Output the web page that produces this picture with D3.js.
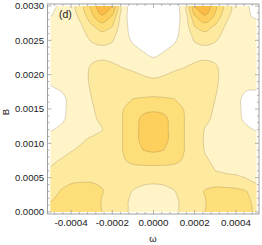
<!DOCTYPE html>
<html>
<head>
<meta charset="utf-8">
<script src="https://cdn.jsdelivr.net/npm/d3@7"></script>
<style>
  body { margin: 0; background: #fff; }
  svg { display: block; }
  text { font-family: "Liberation Sans", Arial, sans-serif; fill: #1a1a1a; }
</style>
</head>
<body>
<svg id="chart" width="262" height="245"></svg>
<script>
// sample positions of the contour grid (omega across, B down from the top)
const omegaGrid = [-5, -4.5, -4, -3.5, -3, -2.5, -2, -1.5, -1, -0.5, 0,
                   0.5, 1, 1.5, 2, 2.5, 3, 3.5, 4, 4.5, 5].map(v => v * 1e-4);
const bGrid = [30, 28.5, 27, 25.5, 24, 22.5, 21, 19.5, 18, 16.5, 15,
               13.5, 12, 10.5, 9, 7.5, 6, 4.5, 3, 1.5, 0].map(v => v * 1e-4);

// field values, one row per bGrid entry
const intensity = [
  [0.85,1.1,1.6,2.6,4.3,5.8,5.0,1.4,0.5,0.3, 0.2, 0.3,0.5,1.4,5.0,5.8,4.3,2.6,1.6,1.1,0.7],
  [1.0,1.15,1.5,2.3,3.8,4.9,3.9,1.3,0.6,0.3, 0.2, 0.3,0.6,1.3,3.9,4.9,3.8,2.3,1.5,1.1,0.9],
  [1.3,1.35,1.5,1.9,2.8,3.5,3.0,1.3,0.7,0.4, 0.3, 0.4,0.7,1.3,3.0,3.5,2.8,1.9,1.5,1.3,1.2],
  [1.4,1.4,1.5,1.7,2.2,2.5,2.2,1.35,0.8,0.5, 0.4, 0.5,0.8,1.35,2.2,2.5,2.2,1.7,1.5,1.4,1.4],
  [1.5,1.5,1.5,1.6,1.8,1.9,1.8,1.5,1.1,0.85, 0.65, 0.85,1.1,1.5,1.8,1.9,1.8,1.6,1.5,1.5,1.5],
  [1.5,1.55,1.6,1.7,1.85,1.9,1.8,1.6,1.4,1.2, 1.0, 1.2,1.4,1.6,1.8,1.9,1.85,1.7,1.6,1.55,1.5],
  [1.2,1.3,1.4,1.7,2.1,2.3,2.2,2.0,1.85,1.7, 1.6, 1.7,1.85,2.0,2.2,2.3,2.1,1.7,1.4,1.3,1.2],
  [1.1,1.2,1.25,1.6,2.2,2.6,2.55,2.45,2.3,2.1, 2.0, 2.1,2.3,2.45,2.55,2.6,2.2,1.6,1.25,1.2,1.1],
  [0.95,1.05,1.3,1.6,2.1,2.5,2.65,2.7,2.7,2.65, 2.6, 2.65,2.7,2.7,2.65,2.5,2.1,1.6,1.3,1.05,1.05],
  [0.6,0.85,1.15,1.5,2.0,2.35,2.55,2.8,3.0,3.05, 3.1, 3.05,3.0,2.8,2.55,2.35,2.0,1.5,1.15,0.85,0.7],
  [0.5,0.85,1.15,1.4,1.9,2.3,2.6,2.95,3.4,3.75, 3.85, 3.75,3.4,2.95,2.6,2.3,1.9,1.4,1.15,0.85,0.5],
  [0.6,0.9,1.15,1.4,1.8,2.2,2.6,3.0,3.6,4.25, 4.4, 4.25,3.6,3.0,2.6,2.2,1.8,1.4,1.15,0.9,0.6],
  [0.95,1.1,1.3,1.45,1.7,1.95,2.6,3.0,3.6,4.3, 4.5, 4.3,3.6,3.0,2.6,1.95,1.7,1.45,1.3,1.1,0.95],
  [1.3,1.45,1.65,1.9,2.15,2.35,2.6,3.0,3.6,4.3, 4.5, 4.3,3.6,3.0,2.5,1.9,1.7,1.55,1.45,1.35,1.25],
  [1.5,1.7,1.95,2.15,2.3,2.45,2.65,3.0,3.5,4.0, 4.15, 4.0,3.5,3.0,2.55,1.95,1.75,1.6,1.5,1.45,1.4],
  [1.85,2.05,2.3,2.45,2.55,2.6,2.7,2.9,3.2,3.35, 3.4, 3.35,3.2,2.9,2.7,2.1,1.85,1.7,1.6,1.55,1.5],
  [2.1,2.4,2.65,2.8,2.85,2.8,2.75,2.7,2.65,2.6, 2.6, 2.6,2.65,2.7,2.75,2.35,2.0,1.85,1.8,1.75,1.7],
  [2.4,2.7,2.9,2.95,2.95,2.9,2.75,2.55,2.35,2.2, 2.15, 2.2,2.35,2.55,2.75,2.75,2.6,2.45,2.3,2.1,1.9],
  [2.6,3.05,3.3,3.35,3.3,3.05,2.7,2.4,1.95,1.7, 1.6, 1.7,1.95,2.4,2.7,3.05,3.3,3.35,3.3,3.05,2.3],
  [3.0,3.25,3.45,3.5,3.45,2.95,2.6,2.3,1.75,1.45, 1.35, 1.45,1.75,2.3,2.6,2.95,3.45,3.5,3.45,3.25,2.7],
  [3.05,3.3,3.5,3.55,3.5,3.0,2.6,2.3,1.7,1.4, 1.3, 1.4,1.7,2.3,2.6,3.0,3.5,3.55,3.5,3.3,2.75]
];

const contourLevels = [1, 2, 3, 4, 5];
const levelColors = ['#fff3c8', '#feea9f', '#fede78', '#fdcf5c', '#fbbc45'];

const xTicks = [-0.0004, -0.0002, 0, 0.0002, 0.0004];
const xTickLabels = ['-0.0004', '-0.0002', '0.0000', '0.0002', '0.0004'];
const yTicks = [0, 0.0005, 0.001, 0.0015, 0.002, 0.0025, 0.003];
const yTickLabels = ['0.0000', '0.0005', '0.0010', '0.0015', '0.0020', '0.0025', '0.0030'];

const svg = d3.select('#chart');

// frame box and data area
const frame = { left: 47.5, right: 259, top: 4, bottom: 214 };
const x = d3.scaleLinear().domain([-0.0005, 0.0005]).range([50.5, 256.5]);
const y = d3.scaleLinear().domain([0, 0.003]).range([212, 6]);

// contour grid coords -> pixels (d3.contours puts sample i at i + 0.5)
const nx = omegaGrid.length, ny = bGrid.length;
const gx = d3.scaleLinear().domain([0.5, nx - 0.5]).range([x(omegaGrid[0]), x(omegaGrid[nx - 1])]);
const gy = d3.scaleLinear().domain([0.5, ny - 0.5]).range([y(bGrid[0]), y(bGrid[ny - 1])]);

const contours = d3.contours().size([nx, ny]).thresholds(contourLevels)(intensity.flat());

// rounded outlines, like the smooth contours of the original
const ringLine = d3.line()
  .x(p => gx(p[0]))
  .y(p => gy(p[1]))
  .curve(d3.curveCatmullRomClosed.alpha(0.5));
const contourPath = c => c.coordinates
  .map(poly => poly.map(ring => ringLine(ring.slice(0, -1))).join(''))
  .join('');

svg.append('clipPath').attr('id', 'plotClip')
  .append('rect')
  .attr('x', x(-0.0005)).attr('y', y(0.003))
  .attr('width', x(0.0005) - x(-0.0005)).attr('height', y(0) - y(0.003));

const plot = svg.append('g').attr('clip-path', 'url(#plotClip)');

plot.selectAll('path.band')
  .data(contours)
  .join('path')
  .attr('class', 'band')
  .attr('d', contourPath)
  .attr('fill-rule', 'evenodd')
  .attr('fill', (d, i) => levelColors[i])
  .attr('stroke', 'none');

plot.selectAll('path.line')
  .data(contours)
  .join('path')
  .attr('class', 'line')
  .attr('d', contourPath)
  .attr('fill', 'none')
  .attr('stroke', 'rgba(130,110,70,0.45)')
  .attr('stroke-width', 0.6);

// frame
svg.append('rect')
  .attr('x', frame.left).attr('y', frame.top)
  .attr('width', frame.right - frame.left).attr('height', frame.bottom - frame.top)
  .attr('fill', 'none').attr('stroke', '#a0a0a0').attr('stroke-width', 1);

const tickColor = '#a0a0a0';
const xMinor = d3.range(-12, 13).map(k => k * 0.00004).filter(v => x(v) > frame.left + 1 && x(v) < frame.right - 1);
const yMinor = d3.range(0, 31).map(k => k * 0.0001);

const ticks = svg.append('g').attr('stroke', tickColor).attr('stroke-width', 0.8);
xMinor.forEach(v => {
  const major = xTicks.some(t => Math.abs(t - v) < 1e-9);
  const len = major ? 4 : 2;
  ticks.append('line').attr('x1', x(v)).attr('x2', x(v)).attr('y1', frame.bottom).attr('y2', frame.bottom - len);
  ticks.append('line').attr('x1', x(v)).attr('x2', x(v)).attr('y1', frame.top).attr('y2', frame.top + len);
});
yMinor.forEach(v => {
  const major = yTicks.some(t => Math.abs(t - v) < 1e-9);
  const len = major ? 4 : 2;
  ticks.append('line').attr('y1', y(v)).attr('y2', y(v)).attr('x1', frame.left).attr('x2', frame.left + len);
  ticks.append('line').attr('y1', y(v)).attr('y2', y(v)).attr('x1', frame.right).attr('x2', frame.right - len);
});

// tick labels
svg.append('g').selectAll('text')
  .data(xTicks)
  .join('text')
  .attr('x', d => x(d))
  .attr('y', 226)
  .attr('text-anchor', 'middle')
  .style('font-size', '9.8px')
  .text((d, i) => xTickLabels[i]);

svg.append('g').selectAll('text')
  .data(yTicks)
  .join('text')
  .attr('x', 44)
  .attr('y', d => y(d) + 3.3)
  .attr('text-anchor', 'end')
  .style('font-size', '9.5px')
  .text((d, i) => yTickLabels[i]);

// axis titles and panel tag
svg.append('text')
  .attr('x', 153).attr('y', 242)
  .attr('text-anchor', 'middle')
  .style('font-size', '9.5px')
  .text('ω');

svg.append('text')
  .attr('transform', 'translate(9,112) rotate(-90)')
  .attr('text-anchor', 'middle')
  .style('font-size', '9.5px')
  .text('B');

svg.append('text')
  .attr('x', 59).attr('y', 18)
  .style('font-size', '10.5px')
  .text('(d)');
</script>
</body>
</html>
